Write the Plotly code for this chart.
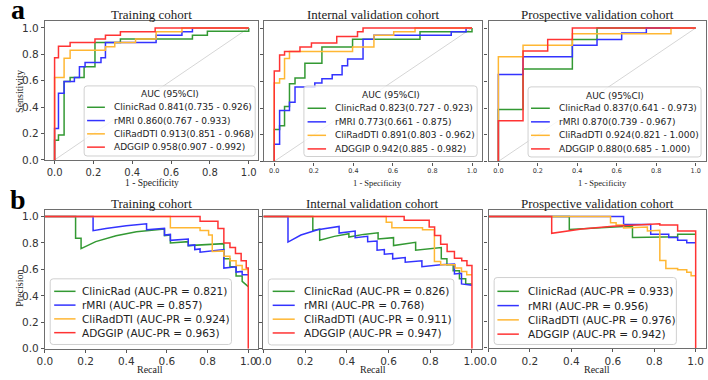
import plotly.graph_objects as go

W, H = 708, 380

MODELS = ["ClinicRad", "rMRI", "CliRadDTI", "ADGGIP"]
COLORS = ["#339933", "#3333ff", "#ffb733", "#ff3333"]
COHORTS = ["Training cohort", "Internal validation cohort", "Prospective validation cohort"]
TICKS = [0.0, 0.2, 0.4, 0.6, 0.8, 1.0]
TICK_TEXT = ["0.0", "0.2", "0.4", "0.6", "0.8", "1.0"]

# ---------------- ROC summary values ----------------
ROC_AUC_TRAIN = [0.841, 0.860, 0.913, 0.958]
ROC_LO_TRAIN = [0.735, 0.767, 0.851, 0.907]
ROC_HI_TRAIN = [0.926, 0.933, 0.968, 0.992]
ROC_AUC_INT = [0.823, 0.773, 0.891, 0.942]
ROC_LO_INT = [0.727, 0.661, 0.803, 0.885]
ROC_HI_INT = [0.923, 0.875, 0.962, 0.982]
ROC_AUC_PRO = [0.837, 0.870, 0.924, 0.880]
ROC_LO_PRO = [0.641, 0.739, 0.821, 0.685]
ROC_HI_PRO = [0.973, 0.967, 1.000, 1.000]

# ---------------- PR summary values ----------------
PR_AUC_TRAIN = [0.821, 0.857, 0.924, 0.963]
PR_AUC_INT = [0.826, 0.768, 0.911, 0.947]
PR_AUC_PRO = [0.933, 0.956, 0.976, 0.942]

# ---------------- ROC curves (step corners) ----------------
TR_CLIN_FPR = [0, 0, 0.02, 0.049, 0.08, 0.152, 0.208, 0.339, 0.71, 0.787, 1.0]
TR_CLIN_TPR = [0, 0.15, 0.188, 0.594, 0.624, 0.707, 0.89, 0.917, 0.945, 0.975, 1.0]
TR_RMRI_FPR = [0, 0, 0.02, 0.049, 0.102, 0.128, 0.157, 0.239, 0.262, 0.523, 0.656, 0.71, 1.0]
TR_RMRI_TPR = [0, 0.238, 0.506, 0.594, 0.624, 0.707, 0.739, 0.774, 0.89, 0.945, 0.972, 1.0, 1.0]
TR_CLIR_FPR = [0, 0, 0.049, 0.08, 0.262, 0.31, 0.417, 0.523, 0.656, 1.0]
TR_CLIR_TPR = [0, 0.624, 0.77, 0.832, 0.857, 0.89, 0.917, 0.972, 1.0, 1.0]
TR_ADGG_FPR = [0, 0, 0.02, 0.08, 0.208, 0.262, 0.339, 0.518, 1.0]
TR_ADGG_TPR = [0, 0.774, 0.862, 0.89, 0.917, 0.945, 0.972, 1.0, 1.0]

IN_CLIN_FPR = [0, 0, 0.027, 0.052, 0.077, 0.105, 0.155, 0.241, 0.396, 0.737, 1.0]
IN_CLIN_TPR = [0, 0.239, 0.268, 0.411, 0.583, 0.625, 0.736, 0.858, 0.915, 0.972, 1.0]
IN_RMRI_FPR = [0, 0, 0.027, 0.077, 0.105, 0.205, 0.241, 0.293, 0.343, 0.371, 0.449, 0.504, 0.895, 0.97, 1.0]
IN_RMRI_TPR = [0, 0.128, 0.381, 0.443, 0.558, 0.588, 0.62, 0.65, 0.718, 0.768, 0.915, 0.945, 0.972, 1.0, 1.0]
IN_CLIR_FPR = [0, 0, 0.027, 0.052, 0.077, 0.396, 0.504, 0.604, 0.712, 1.0]
IN_CLIR_TPR = [0, 0.588, 0.62, 0.772, 0.824, 0.858, 0.945, 0.972, 1.0, 1.0]
IN_ADGG_FPR = [0, 0, 0.027, 0.052, 0.13, 0.188, 0.316, 0.421, 0.449, 1.0]
IN_ADGG_TPR = [0, 0.677, 0.797, 0.824, 0.858, 0.888, 0.937, 0.972, 1.0, 1.0]

PR_CLIN_FPR = [0, 0, 0.125, 0.375, 0.5, 1.0]
PR_CLIN_TPR = [0, 0.39, 0.693, 0.914, 1.0, 1.0]
PR_RMRI_FPR = [0, 0, 0.125, 0.375, 0.5, 0.625, 0.75, 1.0]
PR_RMRI_TPR = [0, 0.651, 0.784, 0.87, 0.914, 0.963, 1.0, 1.0]
PR_CLIR_FPR = [0, 0, 0.125, 0.375, 0.875, 1.0]
PR_CLIR_TPR = [0, 0.784, 0.87, 0.958, 1.0, 1.0]
PR_ADGG_FPR = [0, 0, 0.125, 0.25, 0.375, 1.0]
PR_ADGG_TPR = [0, 0.305, 0.828, 0.914, 1.0, 1.0]

# ---------------- Precision-recall curves ----------------
TRP_CLIN_REC = [0, 0.151, 0.151, 0.178, 0.178, 0.25, 0.35, 0.45, 0.588, 0.588, 0.617, 0.617, 0.705, 0.705, 0.88, 0.88, 0.91, 0.91, 0.94, 0.94, 0.97, 0.97, 1.0]
TRP_CLIN_PRE = [1, 1, 0.836, 0.836, 0.757, 0.81, 0.855, 0.885, 0.905, 0.855, 0.86, 0.80, 0.81, 0.78, 0.795, 0.68, 0.68, 0.62, 0.62, 0.55, 0.55, 0.51, 0.47]
TRP_RMRI_REC = [0, 0.237, 0.237, 0.30, 0.40, 0.50, 0.50, 0.588, 0.588, 0.617, 0.617, 0.705, 0.705, 0.737, 0.737, 0.763, 0.763, 0.88, 0.88, 0.94, 0.94, 0.97, 0.97, 1.0]
TRP_RMRI_PRE = [1, 1, 0.893, 0.91, 0.93, 0.945, 0.90, 0.91, 0.86, 0.865, 0.82, 0.83, 0.78, 0.785, 0.75, 0.755, 0.73, 0.75, 0.61, 0.62, 0.58, 0.585, 0.56, 0.56]
TRP_CLIR_REC = [0, 0.617, 0.617, 0.763, 0.763, 0.805, 0.805, 0.823, 0.823, 0.88, 0.88, 0.91, 0.91, 0.94, 0.94, 0.97, 0.97, 1.0, 1.0]
TRP_CLIR_PRE = [1, 1, 0.915, 0.915, 0.895, 0.895, 0.86, 0.86, 0.735, 0.74, 0.70, 0.70, 0.665, 0.665, 0.63, 0.63, 0.60, 0.60, 0.57]
TRP_ADGG_REC = [0, 0.763, 0.763, 0.851, 0.851, 0.88, 0.88, 0.91, 0.91, 0.937, 0.937, 0.965, 0.965, 0.99, 0.99, 1.0, 1.0]
TRP_ADGG_PRE = [1, 1, 0.965, 0.965, 0.91, 0.91, 0.80, 0.80, 0.765, 0.765, 0.72, 0.72, 0.665, 0.665, 0.61, 0.61, 0.0]

INP_CLIN_REC = [0, 0.237, 0.237, 0.27, 0.27, 0.34, 0.41, 0.41, 0.48, 0.55, 0.55, 0.624, 0.624, 0.73, 0.73, 0.82, 0.853, 0.853, 0.88, 0.88, 0.91, 0.91, 0.94, 0.94, 0.97, 0.97, 1.0]
INP_CLIN_PRE = [1, 1, 0.895, 0.905, 0.82, 0.85, 0.87, 0.845, 0.865, 0.877, 0.83, 0.84, 0.78, 0.805, 0.745, 0.76, 0.765, 0.68, 0.68, 0.635, 0.635, 0.59, 0.59, 0.53, 0.53, 0.49, 0.49]
INP_RMRI_REC = [0, 0.118, 0.118, 0.18, 0.26, 0.363, 0.363, 0.44, 0.44, 0.50, 0.50, 0.545, 0.545, 0.58, 0.58, 0.62, 0.62, 0.68, 0.68, 0.76, 0.76, 0.85, 0.916, 0.916, 0.95, 0.95, 1.0]
INP_RMRI_PRE = [1, 1, 0.807, 0.86, 0.90, 0.925, 0.875, 0.89, 0.84, 0.85, 0.81, 0.815, 0.745, 0.75, 0.715, 0.72, 0.68, 0.69, 0.655, 0.665, 0.62, 0.635, 0.64, 0.565, 0.57, 0.49, 0.48]
INP_CLIR_REC = [0, 0.589, 0.589, 0.616, 0.616, 0.763, 0.763, 0.82, 0.82, 0.85, 0.85, 0.92, 0.92, 0.95, 0.95, 0.975, 0.975, 1.0]
INP_CLIR_PRE = [1, 1, 0.957, 0.957, 0.915, 0.915, 0.90, 0.90, 0.66, 0.66, 0.635, 0.635, 0.61, 0.61, 0.585, 0.585, 0.56, 0.56]
INP_ADGG_REC = [0, 0.675, 0.675, 0.795, 0.795, 0.821, 0.821, 0.85, 0.85, 0.881, 0.881, 0.916, 0.916, 0.951, 0.951, 0.976, 0.976, 1.0, 1.0]
INP_ADGG_PRE = [1, 1, 0.972, 0.972, 0.92, 0.92, 0.857, 0.857, 0.79, 0.79, 0.735, 0.735, 0.685, 0.685, 0.665, 0.665, 0.63, 0.63, 0.0]

PRP_CLIN_REC = [0, 0.39, 0.39, 0.55, 0.695, 0.695, 0.913, 0.913, 1.0]
PRP_CLIN_PRE = [1, 1, 0.902, 0.915, 0.927, 0.84, 0.845, 0.865, 0.865]
PRP_RMRI_REC = [0, 0.652, 0.652, 0.783, 0.783, 0.87, 0.87, 0.913, 0.913, 0.957, 0.957, 1.0]
PRP_RMRI_PRE = [1, 1, 0.94, 0.94, 0.865, 0.865, 0.84, 0.84, 0.82, 0.82, 0.80, 0.80]
PRP_CLIR_REC = [0, 0.589, 0.589, 0.616, 0.616, 0.652, 0.652, 0.767, 0.767, 0.827, 0.827, 0.856, 0.856, 0.913, 0.913, 0.957, 0.957, 0.978, 0.978, 1.0]
PRP_CLIR_PRE = [1, 1, 0.952, 0.952, 0.935, 0.935, 0.912, 0.92, 0.89, 0.895, 0.665, 0.665, 0.605, 0.605, 0.595, 0.595, 0.575, 0.575, 0.55, 0.55]
PRP_ADGG_REC = [0, 0.305, 0.305, 0.45, 0.6, 0.78, 0.827, 0.827, 0.913, 0.913, 1.0, 1.0]
PRP_ADGG_PRE = [1, 1, 0.872, 0.905, 0.925, 0.945, 0.945, 0.935, 0.935, 0.89, 0.89, 0.0]

ROC_CURVES = [
    [(TR_CLIN_FPR, TR_CLIN_TPR), (TR_RMRI_FPR, TR_RMRI_TPR), (TR_CLIR_FPR, TR_CLIR_TPR), (TR_ADGG_FPR, TR_ADGG_TPR)],
    [(IN_CLIN_FPR, IN_CLIN_TPR), (IN_RMRI_FPR, IN_RMRI_TPR), (IN_CLIR_FPR, IN_CLIR_TPR), (IN_ADGG_FPR, IN_ADGG_TPR)],
    [(PR_CLIN_FPR, PR_CLIN_TPR), (PR_RMRI_FPR, PR_RMRI_TPR), (PR_CLIR_FPR, PR_CLIR_TPR), (PR_ADGG_FPR, PR_ADGG_TPR)],
]
PR_CURVES = [
    [(TRP_CLIN_REC, TRP_CLIN_PRE), (TRP_RMRI_REC, TRP_RMRI_PRE), (TRP_CLIR_REC, TRP_CLIR_PRE), (TRP_ADGG_REC, TRP_ADGG_PRE)],
    [(INP_CLIN_REC, INP_CLIN_PRE), (INP_RMRI_REC, INP_RMRI_PRE), (INP_CLIR_REC, INP_CLIR_PRE), (INP_ADGG_REC, INP_ADGG_PRE)],
    [(PRP_CLIN_REC, PRP_CLIN_PRE), (PRP_RMRI_REC, PRP_RMRI_PRE), (PRP_CLIR_REC, PRP_CLIR_PRE), (PRP_ADGG_REC, PRP_ADGG_PRE)],
]
ROC_STATS = [
    (ROC_AUC_TRAIN, ROC_LO_TRAIN, ROC_HI_TRAIN),
    (ROC_AUC_INT, ROC_LO_INT, ROC_HI_INT),
    (ROC_AUC_PRO, ROC_LO_PRO, ROC_HI_PRO),
]
PR_STATS = [PR_AUC_TRAIN, PR_AUC_INT, PR_AUC_PRO]


def PX(x):
    return x / W


def PY(y):
    return 1 - y / H


SERIF = "Liberation Serif, Times New Roman, serif"
SANS = "DejaVu Sans, sans-serif"
TXT = "#222222"

# panel layout (pixels): left, right, top, bottom, tick font, y labels
PANELS = [
    dict(kind="roc", c=0, l=37.3, r=253.3, t=21.7, b=162.5, tf=10.0, yl=True),
    dict(kind="roc", c=1, l=259.3, r=479.3, t=21.7, b=164.0, tf=6.5, yl=False),
    dict(kind="roc", c=2, l=486.0, r=705.5, t=21.7, b=164.0, tf=6.5, yl=False),
    dict(kind="pr", c=0, l=37.3, r=253.3, t=213.3, b=354.3, tf=10.5, yl=True),
    dict(kind="pr", c=1, l=258.3, r=479.8, t=213.3, b=354.3, tf=10.5, yl=False),
    dict(kind="pr", c=2, l=486.0, r=706.0, t=213.3, b=353.5, tf=10.5, yl=False),
]

fig = go.Figure()
layout = dict(
    width=W, height=H, margin=dict(l=0, r=0, t=0, b=0),
    paper_bgcolor="white", plot_bgcolor="white", showlegend=False,
)
annotations = []
shapes = []

for i, p in enumerate(PANELS):
    n = i + 1
    xa = "x" if n == 1 else f"x{n}"
    ya = "y" if n == 1 else f"y{n}"
    xkey = "xaxis" if n == 1 else f"xaxis{n}"
    ykey = "yaxis" if n == 1 else f"yaxis{n}"
    common = dict(
        showline=True, mirror=True, linecolor="#6e6e6e", linewidth=1.2,
        ticks="outside", ticklen=3, tickwidth=1, tickcolor="#555555",
        showgrid=False, zeroline=False, tickvals=TICKS, ticktext=TICK_TEXT,
        tickfont=dict(family=SANS, size=p["tf"], color="#333333"),
    )
    if p["kind"] == "roc":
        xr = [-0.05, 1.05]
    else:
        xr = [0, 1.05]
    layout[xkey] = dict(common, domain=[PX(p["l"]), PX(p["r"])], range=xr, anchor=ya)
    layout[ykey] = dict(common, domain=[PY(p["b"]), PY(p["t"])], range=[0, 1.05], anchor=xa,
                        showticklabels=p["yl"], tickfont=dict(family=SANS, size=10.5, color="#333333"))
    c = p["c"]
    if p["kind"] == "roc":
        fig.add_trace(go.Scatter(x=[0, 1], y=[0, 1], mode="lines", xaxis=xa, yaxis=ya,
                                 line=dict(color="#d6d6d6", width=1), hoverinfo="skip"))
        for k, (xs, ys) in enumerate(ROC_CURVES[c]):
            fig.add_trace(go.Scatter(x=xs, y=ys, mode="lines", xaxis=xa, yaxis=ya, name=MODELS[k],
                                     line=dict(color=COLORS[k], width=1.5, shape="hv")))
    else:
        for k, (xs, ys) in enumerate(PR_CURVES[c]):
            fig.add_trace(go.Scatter(x=xs, y=ys, mode="lines", xaxis=xa, yaxis=ya, name=MODELS[k],
                                     line=dict(color=COLORS[k], width=1.5)))
    # title
    ty = 15 if p["kind"] == "roc" else 206.5
    annotations.append(dict(text=COHORTS[c], x=PX((p["l"] + p["r"]) / 2), y=PY(ty), xref="paper", yref="paper",
                            showarrow=False, xanchor="center", yanchor="middle",
                            font=dict(family=SERIF, size=13, color=TXT)))

# axis titles
XT_ROC = [(145.5, 9.5), (374.0, 8.5), (601.5, 8.5)]
for x, s in XT_ROC:
    annotations.append(dict(text="1 - Specificity", x=PX(x), y=PY(185.5), xref="paper", yref="paper",
                            showarrow=False, xanchor="center", yanchor="middle",
                            font=dict(family=SERIF, size=s, color=TXT)))
for x in [143.5, 369.0, 595.5]:
    annotations.append(dict(text="Recall", x=PX(x), y=PY(375.0), xref="paper", yref="paper",
                            showarrow=False, xanchor="center", yanchor="middle",
                            font=dict(family=SERIF, size=10, color=TXT)))
annotations.append(dict(text="Sensitivity", x=PX(11.5), y=PY(93), xref="paper", yref="paper", textangle=-90,
                        showarrow=False, xanchor="center", yanchor="middle",
                        font=dict(family=SERIF, size=10, color=TXT)))
annotations.append(dict(text="Precision", x=PX(11.5), y=PY(293), xref="paper", yref="paper", textangle=-90,
                        showarrow=False, xanchor="center", yanchor="middle",
                        font=dict(family=SERIF, size=10, color=TXT)))
# panel letters
for letter, y in [("a", 10.0), ("b", 203.0)]:
    annotations.append(dict(text=f"<b>{letter}</b>", x=PX(10.0), y=PY(y), xref="paper", yref="paper",
                            showarrow=False, xanchor="center", yanchor="middle",
                            font=dict(family=SERIF, size=28, color="black")))


def rrect(l, t, r, b, rad=3.0):
    return (f"M {PX(l + rad)},{PY(t)} L {PX(r - rad)},{PY(t)} Q {PX(r)},{PY(t)} {PX(r)},{PY(t + rad)} "
            f"L {PX(r)},{PY(b - rad)} Q {PX(r)},{PY(b)} {PX(r - rad)},{PY(b)} "
            f"L {PX(l + rad)},{PY(b)} Q {PX(l)},{PY(b)} {PX(l)},{PY(b - rad)} "
            f"L {PX(l)},{PY(t + rad)} Q {PX(l)},{PY(t)} {PX(l + rad)},{PY(t)} Z")


def legend(box, title, title_y, ys, lx0, lx1, tx, labels, fs):
    l, t, r, b = box
    shapes.append(dict(type="path", path=rrect(l, t, r, b), xref="paper", yref="paper",
                       fillcolor="rgba(255,255,255,0.8)", line=dict(color="#d0d0d0", width=1), layer="above"))
    if title:
        annotations.append(dict(text=title, x=PX((l + r) / 2), y=PY(title_y), xref="paper", yref="paper",
                                showarrow=False, xanchor="center", yanchor="middle",
                                font=dict(family=SANS, size=fs, color=TXT)))
    for k, (y, lab) in enumerate(zip(ys, labels)):
        shapes.append(dict(type="line", x0=PX(lx0), x1=PX(lx1), y0=PY(y), y1=PY(y), xref="paper", yref="paper",
                           line=dict(color=COLORS[k], width=1.5), layer="above"))
        annotations.append(dict(text=lab, x=PX(tx), y=PY(y), xref="paper", yref="paper",
                                showarrow=False, xanchor="left", yanchor="middle",
                                font=dict(family=SANS, size=fs, color=TXT)))


ROC_LEG = [
    dict(box=(77, 87.3, 250, 158.5), ty=96.0, ys=[109, 122.5, 136, 149.5], lx=(80, 98), tx=105),
    dict(box=(299.3, 87.3, 474.5, 159.0), ty=96.5, ys=[110, 123.8, 137.5, 151.3], lx=(303, 321.7), tx=328.3),
    dict(box=(526, 88.3, 701, 159.5), ty=97.5, ys=[110, 123.8, 137.5, 151.3], lx=(529, 548), tx=555),
]
PR_LEG = [
    dict(box=(42.7, 283.3, 226, 350), ys=[296, 310, 324, 338], lx=(46.7, 68.3), tx=73),
    dict(box=(263.3, 283.5, 451, 350.5), ys=[296, 310.2, 324.3, 338.3], lx=(267.7, 290), tx=297),
    dict(box=(491.7, 282, 676, 350), ys=[296, 310.5, 325, 339.5], lx=(495, 516.7), tx=524),
]

for c in range(3):
    aucs, los, his = ROC_STATS[c]
    labs = [f"{m} {a:.3f}({lo:.3f} - {hi:.3f})" for m, a, lo, hi in zip(MODELS, aucs, los, his)]
    g = ROC_LEG[c]
    legend(g["box"], "AUC (95%CI)", g["ty"], g["ys"], g["lx"][0], g["lx"][1], g["tx"], labs, 9)
for c in range(3):
    labs = [f"{m} (AUC-PR = {a:.3f})" for m, a in zip(MODELS, PR_STATS[c])]
    g = PR_LEG[c]
    legend(g["box"], None, None, g["ys"], g["lx"][0], g["lx"][1], g["tx"], labs, 10.5)

layout["annotations"] = annotations
layout["shapes"] = shapes
fig.update_layout(**layout)
fig.write_html("out.html", config={"displayModeBar": False},
               post_script="document.body.style.margin='0px';document.body.style.padding='0px';")
